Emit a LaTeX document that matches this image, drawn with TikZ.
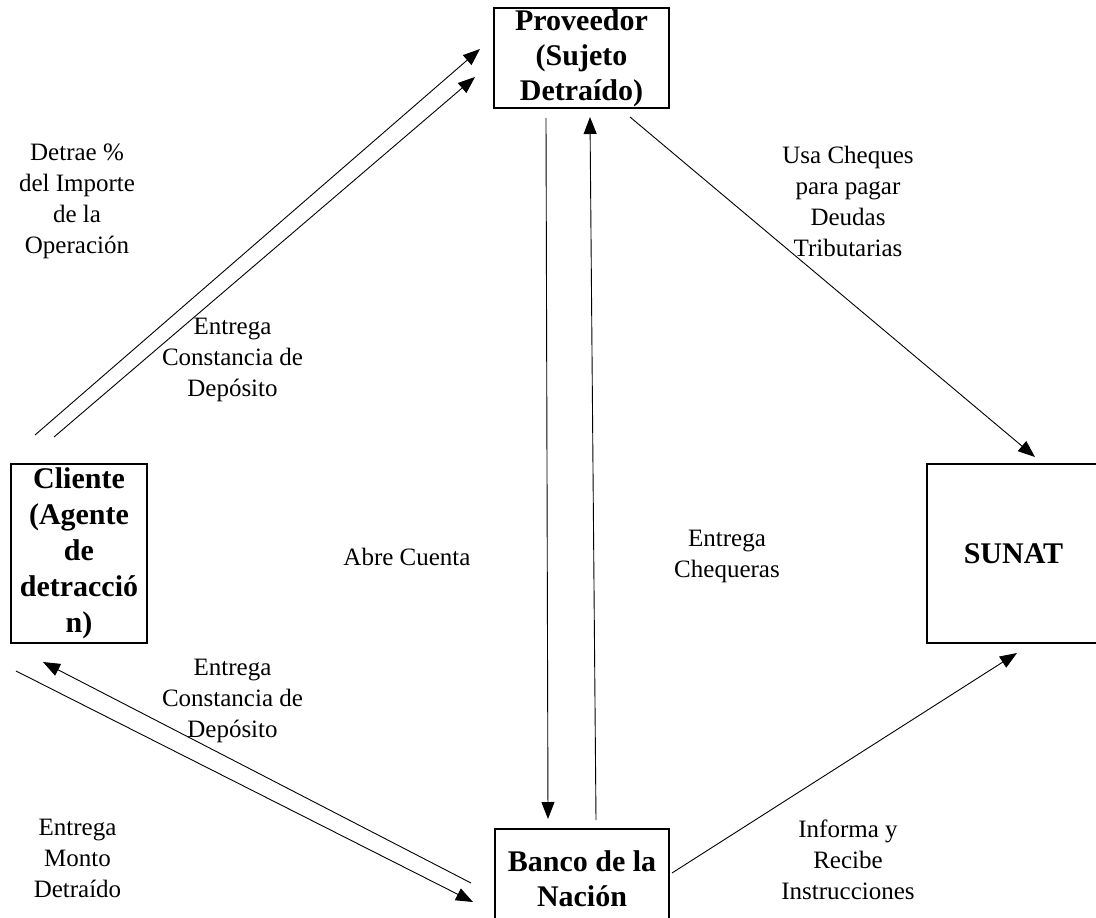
\documentclass[tikz,border=0pt]{standalone}
\usepackage{fontspec}
\setmainfont{Liberation Serif}
\usetikzlibrary{arrows.meta}

\begin{document}
\begin{tikzpicture}[x=1pt, y=-1pt,
   entidad/.style={draw, line width=2pt, align=center, inner sep=0pt,
                   font=\fontsize{30}{35}\selectfont\bfseries},
   etiqueta/.style={align=center, inner sep=0pt, font=\fontsize{25}{31}\selectfont},
   flecha/.style={-{Triangle[length=17pt, width=13pt]}, line width=0.9pt}]
   \useasboundingbox (0,0) rectangle (1096,918);
   \clip (0,0) rectangle (1096,918);

   % Entidades
   \node[entidad, minimum width=175pt, minimum height=100pt] (proveedor) at (581.5,58) {Proveedor\\(Sujeto\\Detraído)};
   \node[entidad, minimum width=136pt, minimum height=179pt, font=\fontsize{30}{36}\selectfont\bfseries] (cliente) at (79,553.5) {Cliente\\(Agente\\de\\detracció\\n)};
   \node[entidad, minimum width=173pt, minimum height=179pt] (sunat) at (1013.5,553.5) {SUNAT};
   \node[entidad, minimum width=174pt, minimum height=100pt] (banco) at (582,879) {Banco de la\\Nación};

   % Extremos libres de las flechas
   \coordinate (cli-a) at (35,435);   \coordinate (prov-a) at (480,49);
   \coordinate (cli-b) at (54,437);   \coordinate (prov-b) at (475,77);
   \coordinate (prov-c) at (546,118); \coordinate (ban-c) at (548,819);
   \coordinate (ban-d) at (596,820);  \coordinate (prov-d) at (590,117);
   \coordinate (prov-e) at (630,117); \coordinate (sun-e) at (1035,457);
   \coordinate (ban-f) at (672,873);  \coordinate (sun-f) at (1017,653);
   \coordinate (ban-g) at (471,883);  \coordinate (cli-g) at (43,662);
   \coordinate (cli-h) at (16,671);   \coordinate (ban-h) at (473,902);

   % Flechas
   \draw[flecha] (cli-a) -- (prov-a);
   \draw[flecha] (cli-b) -- (prov-b);
   \draw[flecha] (prov-c) -- (ban-c);
   \draw[flecha] (ban-d) -- (prov-d);
   \draw[flecha] (prov-e) -- (sun-e);
   \draw[flecha] (ban-f) -- (sun-f);
   \draw[flecha] (ban-g) -- (cli-g);
   \draw[flecha] (cli-h) -- (ban-h);

   % Etiquetas
   \node[etiqueta] (detrae) at (77,201) {Detrae \%\\del Importe\\de la\\Operación};
   \node[etiqueta] (constancia1) at (232.5,360) {Entrega\\Constancia de\\Depósito};
   \node[etiqueta] (cheques) at (848,201) {Usa Cheques\\para pagar\\Deudas\\Tributarias};
   \node[etiqueta] (cuenta) at (407,557) {Abre Cuenta};
   \node[etiqueta] (chequeras) at (727,556) {Entrega\\Chequeras};
   \node[etiqueta] (constancia2) at (232.5,701) {Entrega\\Constancia de\\Depósito};
   \node[etiqueta] (monto) at (77.5,858) {Entrega\\Monto\\Detraído};
   \node[etiqueta] (informa) at (848,860) {Informa y\\Recibe\\Instrucciones};
\end{tikzpicture}
\end{document}
